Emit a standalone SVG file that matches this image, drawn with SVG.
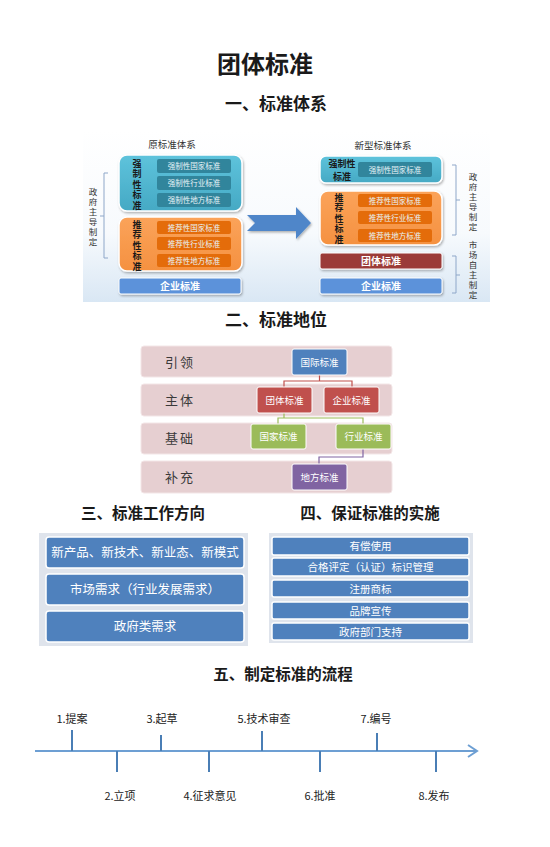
<svg xmlns="http://www.w3.org/2000/svg" width="550" height="847" viewBox="0 0 550 847">
<defs>
<linearGradient id="bg1" x1="0" y1="0" x2="0" y2="1"><stop offset="0" stop-color="#ffffff"/><stop offset="0.6" stop-color="#f7fafd"/><stop offset="1" stop-color="#d9e7f4"/></linearGradient>
<linearGradient id="teal" x1="0" y1="0" x2="0" y2="1"><stop offset="0" stop-color="#5ec3dc"/><stop offset="1" stop-color="#45a9c4"/></linearGradient>
<linearGradient id="orng" x1="0" y1="0" x2="0" y2="1"><stop offset="0" stop-color="#fba35a"/><stop offset="1" stop-color="#f59140"/></linearGradient>
<filter id="sh" x="-10%" y="-10%" width="120%" height="130%"><feDropShadow dx="1" dy="1.5" stdDeviation="1.2" flood-color="#000" flood-opacity="0.3"/></filter>
</defs>
<style>
.h{font-family:"Noto Sans CJK SC",sans-serif;font-weight:700;fill:#1a1a1a;text-anchor:middle}
.sub{font-family:"Noto Sans CJK SC",sans-serif;font-size:7.5px;fill:#e8f4f8;text-anchor:middle}
.vl{font-family:"Noto Sans CJK SC",sans-serif;font-size:9px;font-weight:700;fill:#1a1a1a;text-anchor:middle}
.vv{font-family:"Noto Sans CJK SC",sans-serif;font-size:9px;font-weight:700;fill:#1a1a1a;writing-mode:vertical-rl;letter-spacing:1.5px}
.bw{font-family:"Noto Sans CJK SC",sans-serif;font-size:10px;font-weight:700;fill:#fff;text-anchor:middle}
.lab{font-family:"Noto Sans CJK SC",sans-serif;font-size:9.5px;fill:#333;text-anchor:middle}
.vs{font-family:"Noto Sans CJK SC",sans-serif;font-size:8.5px;fill:#333;writing-mode:vertical-rl;letter-spacing:1.5px}
.band{fill:#e6cfd1;stroke:#f3e6e7;stroke-width:1}
.bl{font-family:"Noto Sans CJK SC",sans-serif;font-size:13px;fill:#3a3a3a;letter-spacing:2px}
.nt{font-family:"Noto Sans CJK SC",sans-serif;font-size:9.5px;fill:#fff;text-anchor:middle}
.wb{fill:#4f81bd;stroke:#fff;stroke-width:1.5}
.wt{font-family:"Noto Sans CJK SC",sans-serif;fill:#fff;text-anchor:middle}
.tl{font-family:"Noto Sans CJK SC",sans-serif;font-size:11px;fill:#222;text-anchor:middle}
.tk{stroke:#4a7eb5;stroke-width:2}
</style>
<rect width="550" height="847" fill="#fff"/>
<text class="h" x="265" y="73" font-size="24">团体标准</text>
<text class="h" x="276" y="110" font-size="17">一、标准体系</text>

<g id="sec1">
<rect x="83" y="130" width="407" height="172" fill="url(#bg1)"/>
<text class="lab" x="172" y="148" font-size="10">原标准体系</text>
<text class="lab" x="383" y="149" font-size="10">新型标准体系</text>
<g id="old-mandatory">
<rect x="119" y="155" width="123" height="56" rx="8" fill="url(#teal)" stroke="#fff" stroke-width="1.5" filter="url(#sh)"/>
<rect x="157" y="159" width="74" height="14" rx="2" fill="#31859c"/>
<rect x="157" y="176" width="74" height="14" rx="2" fill="#31859c"/>
<rect x="157" y="193" width="74" height="14" rx="2" fill="#31859c"/>
<text class="sub" x="194" y="169">强制性国家标准</text>
<text class="sub" x="194" y="186">强制性行业标准</text>
<text class="sub" x="194" y="203">强制性地方标准</text>
<text class="vv" x="137" y="159">强制性标准</text>
</g>
<g id="old-recommended">
<rect x="119" y="217" width="123" height="54" rx="8" fill="url(#orng)" stroke="#fff" stroke-width="1.5" filter="url(#sh)"/>
<rect x="157" y="221" width="74" height="13" rx="2" fill="#e46c0a"/>
<rect x="157" y="237" width="74" height="13" rx="2" fill="#e46c0a"/>
<rect x="157" y="254" width="74" height="13" rx="2" fill="#e46c0a"/>
<text class="sub" x="194" y="230.5">推荐性国家标准</text>
<text class="sub" x="194" y="246.5">推荐性行业标准</text>
<text class="sub" x="194" y="263.5">推荐性地方标准</text>
<text class="vv" x="137" y="220">推荐性标准</text>
</g>
<g id="old-enterprise">
<rect x="119" y="278" width="122" height="16" rx="2" fill="#5b92da" stroke="#fff" stroke-width="1" filter="url(#sh)"/>
<text class="bw" x="180" y="290">企业标准</text>
</g>
<g id="left-brace">
<path d="M108 173 H104 V258 H108 M104 216 H100" fill="none" stroke="#8ea7c9" stroke-width="1"/>
<text class="vs" x="93" y="188">政府主导制定</text>
</g>
<g id="arrow">
<path d="M247 215 H296 V207 L311 223 L296 239 V231 H247 L255 223 Z" fill="#4f86c9" filter="url(#sh)"/>
</g>
<g id="new-mandatory">
<rect x="320" y="156" width="122" height="27" rx="6" fill="url(#teal)" stroke="#fff" stroke-width="1.5" filter="url(#sh)"/>
<rect x="358" y="162" width="74" height="15" rx="2" fill="#31859c"/>
<text class="sub" x="395" y="172.5">强制性国家标准</text>
<text class="vl" x="342" y="167">强制性</text>
<text class="vl" x="342" y="179.5">标准</text>
</g>
<g id="new-recommended">
<rect x="320" y="191" width="122" height="54" rx="8" fill="url(#orng)" stroke="#fff" stroke-width="1.5" filter="url(#sh)"/>
<rect x="358" y="194" width="74" height="13" rx="2" fill="#e46c0a"/>
<rect x="358" y="211" width="74" height="13" rx="2" fill="#e46c0a"/>
<rect x="358" y="229" width="74" height="13" rx="2" fill="#e46c0a"/>
<text class="sub" x="395" y="203.5">推荐性国家标准</text>
<text class="sub" x="395" y="220.5">推荐性行业标准</text>
<text class="sub" x="395" y="238.5">推荐性地方标准</text>
<text class="vv" x="339" y="193">推荐性标准</text>
</g>
<g id="new-group">
<rect x="320" y="253" width="122" height="16" rx="2" fill="#9b3b39" stroke="#fff" stroke-width="1" filter="url(#sh)"/>
<text class="bw" x="381" y="265">团体标准</text>
</g>
<g id="new-enterprise">
<rect x="320" y="278" width="122" height="16" rx="2" fill="#5b92da" stroke="#fff" stroke-width="1" filter="url(#sh)"/>
<text class="bw" x="381" y="290">企业标准</text>
</g>
<g id="right-braces">
<path d="M452 165 H456 V235 H452 M456 200 H460" fill="none" stroke="#8ea7c9" stroke-width="1"/>
<path d="M452 256 H456 V293 H452 M456 275 H460" fill="none" stroke="#8ea7c9" stroke-width="1"/>
<text class="vs" x="473" y="173">政府主导制定</text>
<text class="vs" x="473" y="241">市场自主制定</text>
</g>
</g>

<text class="h" x="276" y="326" font-size="17">二、标准地位</text>
<g id="sec2">
<g id="bands">
<rect class="band" x="141" y="346" width="251" height="31" rx="3"/>
<rect class="band" x="141" y="384" width="251" height="32" rx="3"/>
<rect class="band" x="141" y="423" width="251" height="31" rx="3"/>
<rect class="band" x="141" y="461" width="251" height="32" rx="3"/>
<text class="bl" x="165" y="367">引领</text>
<text class="bl" x="165" y="405">主体</text>
<text class="bl" x="165" y="443">基础</text>
<text class="bl" x="165" y="482">补充</text>
</g>
<g id="connectors2" fill="none" stroke-width="1.2">
<path d="M319.5 375 V381 M284 387 V381 H352 V387" stroke="#c0504d"/>
<path d="M284 413 V418 M278 424 V418 H363 V424" stroke="#9bbb59"/>
<path d="M363 449 V457 H319 V464" stroke="#8064a2"/>
</g>
<g id="n-intl"><rect x="292" y="349" width="55" height="26" rx="2" fill="#4f81bd" stroke="#fff"/><text class="nt" x="319.5" y="365.5">国际标准</text></g>
<g id="n-group"><rect x="257" y="387" width="55" height="26" rx="2" fill="#c0504d" stroke="#fff"/><text class="nt" x="284.5" y="403.5">团体标准</text></g>
<g id="n-ent"><rect x="324" y="387" width="55" height="26" rx="2" fill="#c0504d" stroke="#fff"/><text class="nt" x="351.5" y="403.5">企业标准</text></g>
<g id="n-nat"><rect x="251" y="424" width="55" height="25" rx="2" fill="#9bbb59" stroke="#fff"/><text class="nt" x="278.5" y="440">国家标准</text></g>
<g id="n-ind"><rect x="336" y="424" width="55" height="25" rx="2" fill="#9bbb59" stroke="#fff"/><text class="nt" x="363.5" y="440">行业标准</text></g>
<g id="n-loc"><rect x="292" y="464" width="55" height="26" rx="2" fill="#8064a2" stroke="#fff"/><text class="nt" x="319.5" y="480.5">地方标准</text></g>
</g>

<text class="h" x="143" y="519" font-size="15.5">三、标准工作方向</text>
<text class="h" x="370" y="519" font-size="15.5">四、保证标准的实施</text>
<g id="sec3">
<rect x="39" y="533" width="209" height="113" fill="#dfe4ec"/>
<g id="d1"><rect class="wb" x="46" y="537" width="198" height="31" rx="3"/><text class="wt" x="145" y="557" font-size="12.5">新产品、新技术、新业态、新模式</text></g>
<g id="d2"><rect class="wb" x="46" y="574" width="198" height="31" rx="3"/><text class="wt" x="145" y="594" font-size="12.5">市场需求（行业发展需求）</text></g>
<g id="d3"><rect class="wb" x="46" y="611" width="198" height="31" rx="3"/><text class="wt" x="145" y="631" font-size="12.5">政府类需求</text></g>
</g>
<g id="sec4">
<rect x="269" y="533" width="204" height="110" fill="#dfe4ec"/>
<g id="i1"><rect class="wb" x="272" y="537" width="197" height="18" rx="2"/><text class="wt" x="370.5" y="550" font-size="10.5">有偿使用</text></g>
<g id="i2"><rect class="wb" x="272" y="558" width="197" height="18" rx="2"/><text class="wt" x="370.5" y="571" font-size="10.5">合格评定（认证）标识管理</text></g>
<g id="i3"><rect class="wb" x="272" y="580" width="197" height="17" rx="2"/><text class="wt" x="370.5" y="592.5" font-size="10.5">注册商标</text></g>
<g id="i4"><rect class="wb" x="272" y="602" width="197" height="17" rx="2"/><text class="wt" x="370.5" y="614.5" font-size="10.5">品牌宣传</text></g>
<g id="i5"><rect class="wb" x="272" y="623" width="197" height="17" rx="2"/><text class="wt" x="370.5" y="635.5" font-size="10.5">政府部门支持</text></g>
</g>

<text class="h" x="283" y="680" font-size="15.5">五、制定标准的流程</text>
<g id="sec5">
<g id="timeline" fill="none">
<line x1="35" y1="751" x2="477" y2="751" stroke="#6d9fd3" stroke-width="2"/>
<path d="M468 745 L477 751 L468 757" stroke="#6d9fd3" stroke-width="2"/>
<line class="tk" x1="72" y1="730" x2="72" y2="751"/>
<line class="tk" x1="161" y1="735" x2="161" y2="751"/>
<line class="tk" x1="262" y1="731" x2="262" y2="751"/>
<line class="tk" x1="377" y1="733" x2="377" y2="751"/>
<line class="tk" x1="117" y1="751" x2="117" y2="772"/>
<line class="tk" x1="209" y1="751" x2="209" y2="772"/>
<line class="tk" x1="320" y1="751" x2="320" y2="772"/>
<line class="tk" x1="436" y1="751" x2="436" y2="772"/>
</g>
<text class="tl" x="72" y="723">1.提案</text>
<text class="tl" x="162" y="723">3.起草</text>
<text class="tl" x="264" y="723">5.技术审查</text>
<text class="tl" x="376" y="723">7.编号</text>
<text class="tl" x="120" y="800">2.立项</text>
<text class="tl" x="210" y="800">4.征求意见</text>
<text class="tl" x="320" y="800">6.批准</text>
<text class="tl" x="434" y="800">8.发布</text>
</g>
</svg>
